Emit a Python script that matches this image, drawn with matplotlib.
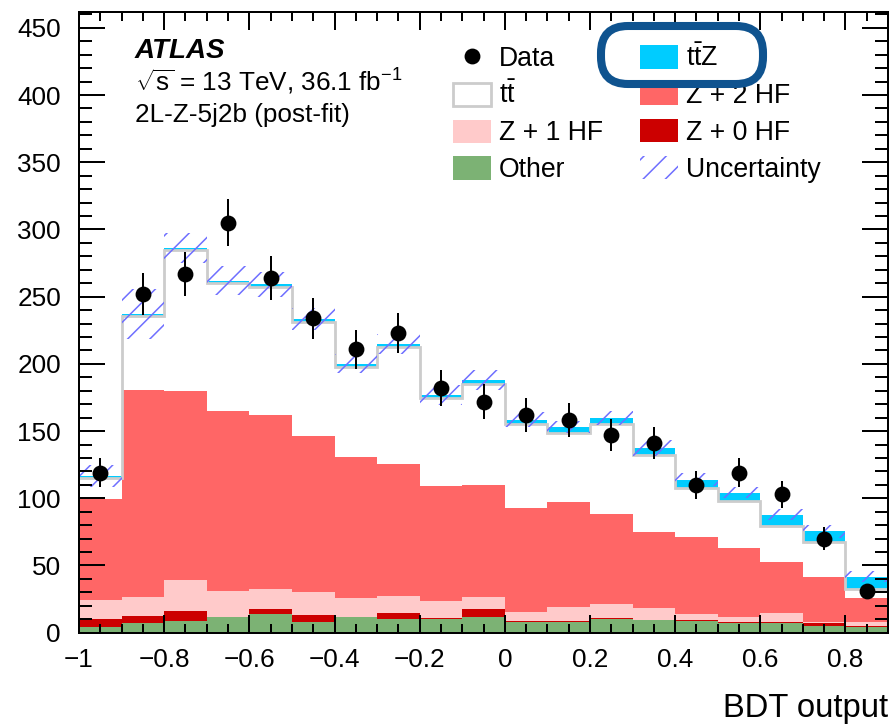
import numpy as np
import matplotlib.pyplot as plt
from matplotlib.patches import Patch, FancyBboxPatch
from matplotlib.lines import Line2D
from matplotlib.ticker import MultipleLocator, FixedLocator, FixedFormatter
from matplotlib.transforms import IdentityTransform

plt.rcParams['font.family'] = 'Liberation Sans'
plt.rcParams['mathtext.fontset'] = 'custom'
plt.rcParams['mathtext.rm'] = 'Liberation Sans'
plt.rcParams['mathtext.it'] = 'Liberation Sans:italic'
plt.rcParams['mathtext.bf'] = 'Liberation Sans:bold'
plt.rcParams['hatch.linewidth'] = 0.55
plt.rcParams['hatch.color'] = '#6f6fff'

# BDT output binning
edges = [-1.0, -0.9, -0.8, -0.7, -0.6, -0.5, -0.4, -0.3, -0.2, -0.1,
         0.0, 0.1, 0.2, 0.3, 0.4, 0.5, 0.6, 0.7, 0.8, 0.9]
centers = [-0.95, -0.85, -0.75, -0.65, -0.55, -0.45, -0.35, -0.25, -0.15, -0.05,
           0.05, 0.15, 0.25, 0.35, 0.45, 0.55, 0.65, 0.75, 0.85]

# post-fit yields per sample
other = [4.5, 7.4, 8.9, 11.5, 13.7, 8.2, 11.5, 10.2, 10.0, 11.5,
         8.2, 8.2, 10.0, 9.4, 8.9, 7.4, 7.4, 5.0, 4.5]
z0hf = [5.5, 5.0, 7.5, 0.2, 3.9, 4.8, 0.4, 4.7, 0.7, 6.1,
        0.3, 0.3, 0.7, 0.3, 0.7, 0.8, 0.4, 2.0, 0.3]
z1hf = [14.3, 14.4, 22.8, 19.6, 14.7, 17.0, 14.2, 12.4, 12.9, 9.0,
        7.1, 10.9, 10.4, 8.5, 4.3, 3.3, 6.6, 1.2, 2.9]
z2hf = [75.0, 153.7, 140.8, 133.9, 129.9, 116.0, 104.9, 98.2, 85.2, 83.2,
        77.0, 77.6, 67.1, 56.6, 57.1, 51.3, 38.5, 33.5, 17.9]
ttbar = [15.9, 55.2, 104.7, 94.8, 94.9, 85.5, 66.7, 87.1, 65.6, 75.5,
         62.4, 51.8, 66.8, 57.3, 36.3, 35.1, 26.8, 25.6, 7.2]
ttz = [1.3, 1.5, 1.6, 2.0, 2.0, 2.0, 2.5, 2.5, 2.7, 2.5,
       3.5, 4.2, 4.7, 5.3, 6.5, 6.4, 8.0, 8.0, 8.9]

# total systematic uncertainty (half width)
uncert = [8.0, 18.5, 11.0, 11.0, 9.5, 8.0, 7.0, 7.5, 7.5, 7.5,
          5.5, 4.5, 5.0, 6.0, 5.0, 4.0, 4.0, 5.0, 4.0]

data = [119, 252, 267, 305, 264, 234, 211, 223, 182, 172,
        162, 158, 147, 141, 110, 119, 103, 70, 31]
data_err = [10.9, 15.9, 16.3, 17.5, 16.2, 15.3, 14.5, 14.9, 13.5, 13.1,
            12.7, 12.6, 12.1, 11.9, 10.5, 10.9, 10.1, 8.4, 5.6]

x_ticks = [-1.0, -0.8, -0.6, -0.4, -0.2, 0.0, 0.2, 0.4, 0.6, 0.8]
x_tick_labels = ['\u22121', '\u22120.8', '\u22120.6', '\u22120.4', '\u22120.2',
                 '0', '0.2', '0.4', '0.6', '0.8']

c_other = '#7cb274'
c_z0 = '#cc0000'
c_z1 = '#ffcaca'
c_z2 = '#ff6666'
c_tt = '#cccccc'
c_ttz = '#00ccff'
c_unc = '#6f6fff'

# cumulative stack, bottom to top
cum_other = np.array(other)
cum_z0 = cum_other + np.array(z0hf)
cum_z1 = cum_z0 + np.array(z1hf)
cum_z2 = cum_z1 + np.array(z2hf)
cum_tt = cum_z2 + np.array(ttbar)
cum_ttz = cum_tt + np.array(ttz)
unc = np.array(uncert)

fig = plt.figure(figsize=(4.45, 3.64), dpi=200)
ax = fig.add_axes([0.0888, 0.1309, 0.909, 0.853])

# draw largest cumulative first, smaller ones on top
ax.stairs(cum_ttz, edges, baseline=0, fill=True, color=c_ttz, lw=0)
ax.stairs(cum_tt, edges, baseline=0, fill=True, color='white', lw=0)
ax.stairs(cum_z2, edges, baseline=0, fill=True, color=c_z2, lw=0)
ax.stairs(cum_z1, edges, baseline=0, fill=True, color=c_z1, lw=0)
ax.stairs(cum_z0, edges, baseline=0, fill=True, color=c_z0, lw=0)
ax.stairs(cum_other, edges, baseline=0, fill=True, color=c_other, lw=0)
ax.stairs(cum_tt, edges, baseline=None, color=c_tt, lw=1.0)

ax.stairs(cum_ttz + unc, edges, baseline=cum_ttz - unc, fill=True,
          facecolor='none', edgecolor=c_unc, hatch='///', lw=0)

ax.errorbar(centers, data, yerr=data_err, fmt='o', color='black', ms=4.7,
            elinewidth=0.72, capsize=0, zorder=5)

ax.set_xlim(-1.0, 0.9)
ax.set_ylim(0, 462)
ax.xaxis.set_major_locator(FixedLocator(x_ticks))
ax.xaxis.set_major_formatter(FixedFormatter(x_tick_labels))
ax.xaxis.set_minor_locator(MultipleLocator(0.05))
ax.yaxis.set_major_locator(MultipleLocator(50))
ax.yaxis.set_minor_locator(MultipleLocator(10))

for s in ax.spines.values():
    s.set_linewidth(0.72)
ax.tick_params(axis='both', which='both', direction='in', top=True, right=True, width=0.72)
ax.tick_params(axis='x', which='major', length=6.4, pad=5.6, labelsize=9.4)
ax.tick_params(axis='x', which='minor', length=3.1)
ax.tick_params(axis='y', which='major', length=9.4, pad=6.5, labelsize=9.4)
ax.tick_params(axis='y', which='minor', length=4.6)

ax.set_xlabel('BDT output', fontsize=11.8, ha='right', va='baseline')
ax.xaxis.set_label_coords(1.0, -0.1353)

ax.text(0.0692, 0.9259, 'ATLAS', transform=ax.transAxes, fontsize=10.0,
        fontweight='bold', style='italic', va='baseline')
ax.text(0.0692, 0.8723, r'$\sqrt{\mathrm{s}}$ = 13 TeV, 36.1 fb$^{-1}$',
        transform=ax.transAxes, fontsize=9.4, va='baseline')
ax.text(0.0692, 0.8229, '2L-Z-5j2b (post-fit)', transform=ax.transAxes,
        fontsize=9.4, va='baseline')

handles = [
    Line2D([], [], marker='o', color='black', ls='none', ms=4.7),
    Patch(facecolor='white', edgecolor=c_tt, lw=1.0),
    Patch(facecolor=c_z1, lw=0),
    Patch(facecolor=c_other, lw=0),
    Patch(facecolor=c_ttz, lw=0),
    Patch(facecolor=c_z2, lw=0),
    Patch(facecolor=c_z0, lw=0),
    Patch(facecolor='none', edgecolor=c_unc, hatch='///', lw=0),
]
labels = ['Data', r'$\mathrm{t}\bar{\mathrm{t}}$', 'Z + 1 HF', 'Other',
          r'$\mathrm{t}\bar{\mathrm{t}}\mathrm{Z}$', 'Z + 2 HF', 'Z + 0 HF', 'Uncertainty']
ax.legend(handles, labels, ncol=2, frameon=False, loc='upper left',
          bbox_to_anchor=(453 / 890, 1 - 45 / 728), bbox_transform=fig.transFigure,
          fontsize=9.6, handlelength=1.42, handleheight=0.96, handletextpad=0.3,
          columnspacing=1.4, labelspacing=0.38, borderpad=0, borderaxespad=0)

# marker ring around the ttZ entry
ring = FancyBboxPatch((601, 728 - 84), 162, 58,
                      boxstyle='round,pad=0,rounding_size=27',
                      transform=IdentityTransform(), fill=False,
                      edgecolor='#0f538f', lw=2.9, zorder=10)
fig.add_artist(ring)

fig.savefig('out.png', dpi=200)
